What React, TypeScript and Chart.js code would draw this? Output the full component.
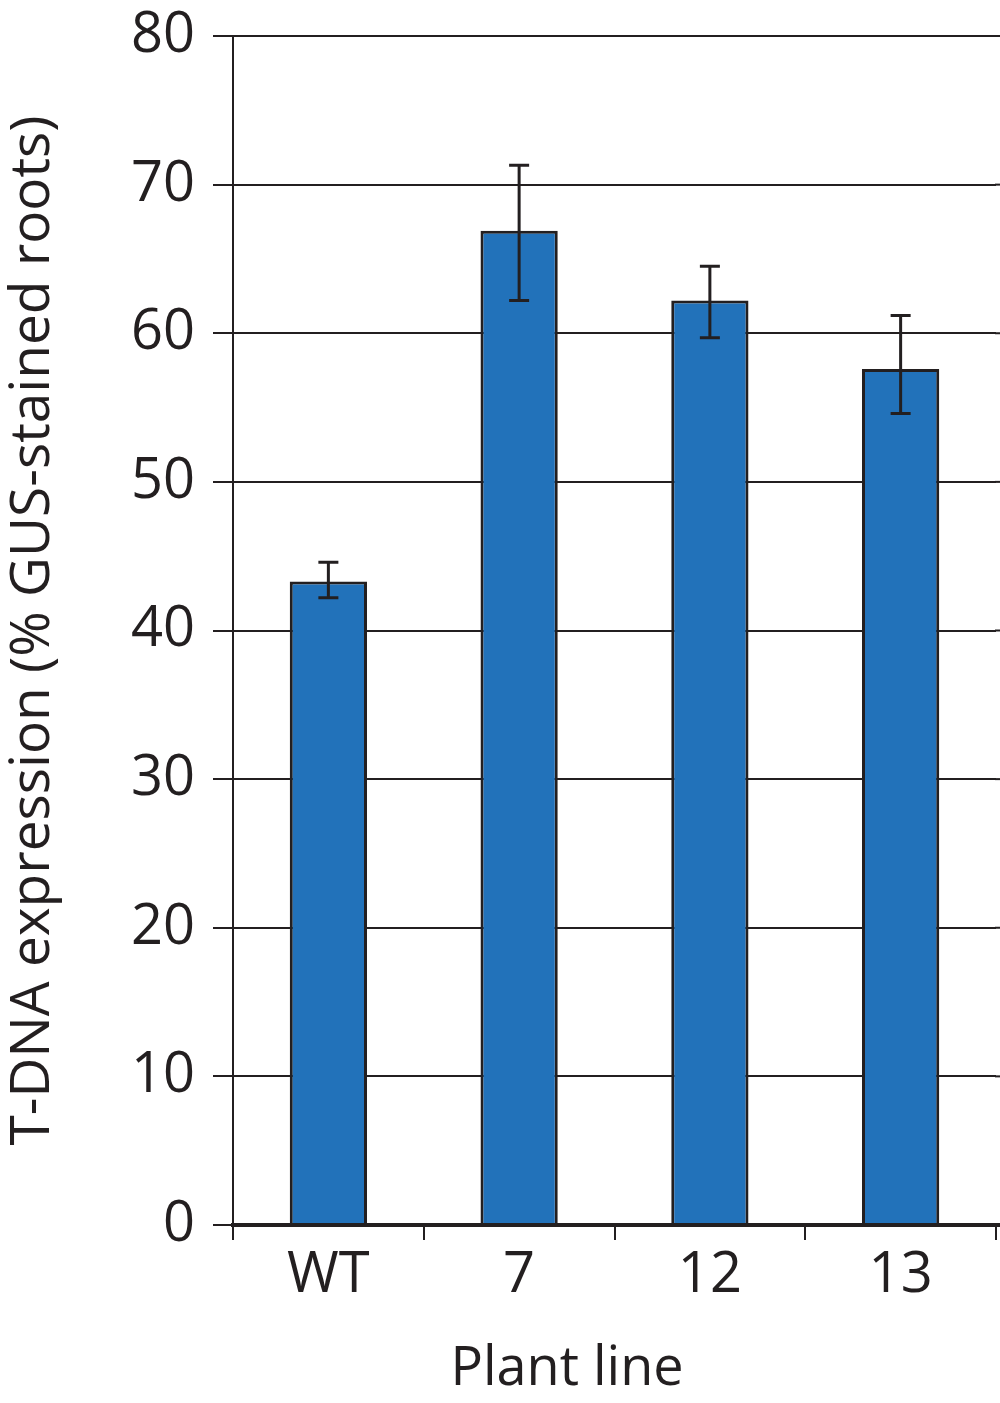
import React, { useEffect, useRef } from "react";
import { Chart, registerables } from "chart.js";

Chart.register(...registerables);

const categories = ["WT", "7", "12", "13"];
const values = [43.3, 66.9, 62.2, 57.6];
const errLow = [42.2, 62.2, 59.7, 54.6];
const errHigh = [44.6, 71.3, 64.5, 61.2];
const yTicks = [0, 10, 20, 30, 40, 50, 60, 70, 80];
const xTitle = "Plant line";
const yTitle = "T-DNA expression (% GUS-stained roots)";

const INK = "#231F20";
const BLUE = "#2272BA";
const FONT = "'Open Sans', sans-serif";

const errorBarPlugin = {
  id: "errorBars",
  afterDatasetsDraw(chart: any) {
    const ctx = chart.ctx;
    const meta = chart.getDatasetMeta(0);
    const y = chart.scales.y;
    ctx.save();
    ctx.strokeStyle = INK;
    ctx.lineWidth = 3;
    meta.data.forEach((bar: any, i: number) => {
      const x = bar.x;
      const yl = y.getPixelForValue(errLow[i]);
      const yh = y.getPixelForValue(errHigh[i]);
      ctx.beginPath();
      ctx.moveTo(x, yl);
      ctx.lineTo(x, yh);
      ctx.moveTo(x - 10, yl);
      ctx.lineTo(x + 10, yl);
      ctx.moveTo(x - 10, yh);
      ctx.lineTo(x + 10, yh);
      ctx.stroke();
    });
    ctx.restore();
  },
};

const extrasPlugin = {
  id: "extras",
  afterDraw(chart: any) {
    const ctx = chart.ctx;
    const y = chart.scales.y;
    const right = chart.chartArea.right;
    ctx.save();
    ctx.strokeStyle = INK;
    yTicks.forEach((v) => {
      const py = y.getPixelForValue(v);
      ctx.lineWidth = v === 0 ? 4 : 2;
      ctx.beginPath();
      ctx.moveTo(right - 1, py);
      ctx.lineTo(chart.width, py);
      ctx.stroke();
    });
    // x-axis title (offset left of chart-area centre, as in the original figure)
    ctx.fillStyle = INK;
    ctx.font = `54px ${FONT}`;
    ctx.textAlign = "center";
    ctx.textBaseline = "alphabetic";
    ctx.fillText(xTitle, 567, 1385);
    ctx.restore();
  },
};

export default function App() {
  const ref = useRef<HTMLCanvasElement | null>(null);

  useEffect(() => {
    if (!ref.current) return;
    const chart = new Chart(ref.current, {
      type: "bar",
      data: {
        labels: categories,
        datasets: [
          {
            data: values,
            backgroundColor: BLUE,
            borderColor: INK,
            borderWidth: 3,
            borderSkipped: "start",
            categoryPercentage: 1,
            barPercentage: 0.405,
          },
        ],
      },
      options: {
        animation: false,
        responsive: false,
        maintainAspectRatio: false,
        devicePixelRatio: 1,
        layout: { padding: { top: 36, right: 4, bottom: 0, left: 0 } },
        plugins: {
          legend: { display: false },
          tooltip: { enabled: false },
        },
        scales: {
          x: {
            afterFit: (s: any) => {
              s.height = 178;
              s.paddingLeft = 0;
              s.paddingRight = 0;
            },
            grid: {
              drawOnChartArea: false,
              drawTicks: true,
              tickLength: 15,
              color: INK,
              lineWidth: 2,
            },
            border: { display: true, color: INK, width: 4, z: 1 },
            ticks: {
              color: INK,
              font: { family: FONT, size: 56 },
              padding: 2,
            },
            title: { display: false },
          },
          y: {
            min: 0,
            max: 80,
            afterFit: (s: any) => {
              s.width = 233;
              s.paddingTop = 0;
              s.paddingBottom = 0;
            },
            afterBuildTicks: (s: any) => {
              s.ticks = yTicks.map((v) => ({ value: v }));
            },
            grid: {
              color: INK,
              lineWidth: 2,
              tickLength: 20,
            },
            border: { display: true, color: INK, width: 2 },
            ticks: {
              stepSize: 10,
              color: INK,
              font: { family: FONT, size: 56 },
              padding: 18,
            },
            title: {
              display: true,
              text: yTitle,
              color: INK,
              font: { family: FONT, size: 55 },
              padding: { top: 0, bottom: 0 },
            },
          },
        },
      },
      plugins: [errorBarPlugin, extrasPlugin],
    });
    return () => chart.destroy();
  }, []);

  return (
    <div style={{ position: "absolute", left: 0, top: 0, width: 1000, height: 1403, background: "#fff" }}>
      <canvas ref={ref} width={1000} height={1403} style={{ width: 1000, height: 1403, display: "block" }} />
    </div>
  );
}
